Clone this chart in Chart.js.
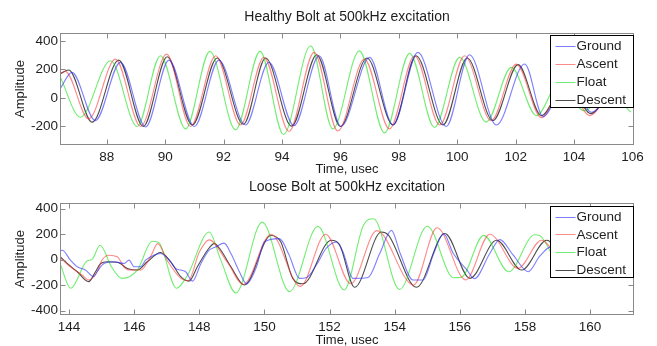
<!DOCTYPE html>
<html>
<head>
<meta charset="utf-8">
<script src="https://cdn.jsdelivr.net/npm/chart.js@4.4.1/dist/chart.umd.min.js"></script>
<style>
  html, body { margin: 0; padding: 0; background: #fff; }
  canvas { display: block; }
</style>
</head>
<body>
<canvas id="healthy" width="657" height="175"></canvas>
<canvas id="loose" width="657" height="171"></canvas>
<script>
const SERIES_NAMES = ["Ground", "Ascent", "Float", "Descent"];
const SERIES_COLORS = [
  "rgba(40, 40, 255, 0.6)",
  "rgba(255, 40, 40, 0.55)",
  "rgba(20, 225, 20, 0.6)",
  "rgba(0, 0, 0, 0.7)",
];

// Healthy bolt (usec / amplitude), peaks and troughs
const healthyGroundT = [86.40, 86.81, 87.61, 88.47, 89.33, 90.13, 91.00, 91.84, 92.75, 93.55, 94.41, 95.27, 96.02, 97.00, 97.80, 98.65, 99.62, 100.42, 101.34, 102.31, 102.94, 103.80, 104.60, 105.45, 106.30];
const healthyGroundV = [63, 179, -159, 249, -204, 265, -200, 265, -190, 250, -195, 296, -200, 284, -190, 319, -200, 303, -190, 238, -131, 150, -100, 60, -110];
const healthyAscentT = [86.40, 86.58, 87.38, 88.30, 89.16, 90.05, 90.87, 91.73, 92.58, 93.38, 94.24, 95.10, 95.91, 96.82, 97.68, 98.54, 99.40, 100.25, 101.16, 102.02, 102.88, 103.70, 104.54, 105.35, 106.20];
const healthyAscentV = [165, 186, -147, 272, -200, 307, -200, 296, -190, 284, -235, 319, -232, 272, -217, 296, -190, 296, -159, 238, -138, 120, -124, 60, -110];
const healthyFloatT = [86.40, 87.10, 88.13, 89.04, 89.84, 90.70, 91.53, 92.41, 93.25, 94.05, 94.98, 95.74, 96.65, 97.51, 98.37, 99.22, 100.08, 100.99, 101.85, 102.71, 103.50, 104.35, 105.15, 105.95];
const healthyFloatV = [150, -135, 261, -200, 296, -217, 326, -223, 326, -256, 366, -217, 330, -245, 312, -207, 284, -170, 214, -124, 110, -90, 40, -100];
const healthyDescentT = [86.40, 86.70, 87.50, 88.41, 89.25, 90.07, 90.93, 91.78, 92.68, 93.44, 94.33, 95.19, 96.00, 96.91, 97.80, 98.59, 99.51, 100.34, 101.22, 102.08, 102.88, 103.75, 104.57, 105.40, 106.25];
const healthyDescentV = [170, 196, -170, 265, -200, 289, -190, 280, -185, 280, -198, 303, -200, 280, -190, 296, -190, 280, -159, 233, -124, 130, -110, 60, -100];

// Loose bolt
const looseGroundT = [143.69, 143.79, 144.04, 144.25, 144.50, 144.76, 144.86, 145.07, 145.38, 145.69, 145.84, 146.00, 146.19, 146.35, 146.60, 146.81, 147.12, 147.27, 147.43, 147.58, 147.79, 148.05, 148.30, 148.50, 148.76, 148.97, 149.23, 149.45, 149.75, 150.00, 150.46, 150.75, 151.08, 151.30, 151.60, 151.90, 152.21, 152.40, 152.72, 153.18, 153.54, 153.90, 154.17, 154.56, 154.87, 155.20, 155.50, 155.80, 156.20, 156.45, 156.92, 157.23, 157.64, 158.10, 158.46, 158.80, 159.60, 160.50, 161.40];
const looseGroundV = [61, 74, -4, -56, -82, -134, -95, -30, -17, -30, -4, -56, -56, -4, 35, 48, -17, -69, -82, -95, -169, -30, 74, 100, 130, 48, -95, -190, -60, 139, 165, 40, -147, -140, -40, 90, 139, 67, -147, -140, 48, 230, 48, -160, -160, 48, 204, 48, -75, -150, 48, 157, 35, -95, 29, 100, -40, 120, 61];
const looseAscentT = [143.70, 144.04, 144.40, 144.60, 144.86, 145.02, 145.22, 145.48, 145.68, 145.85, 146.20, 146.50, 146.72, 147.02, 147.43, 147.66, 148.00, 148.30, 148.86, 149.35, 150.20, 151.10, 151.88, 152.65, 153.45, 154.58, 155.30, 156.18, 156.92, 157.79, 158.51, 159.30, 160.30, 161.40];
const looseAscentV = [22, -56, -121, -160, -95, 0, 35, 22, -56, -82, -82, 22, 126, -10, -147, -165, 60, 155, -20, -195, 200, -210, 200, -190, 228, -200, 250, -160, 200, -69, 152, -60, 140, 74];
const looseFloatT = [143.72, 144.05, 144.55, 144.70, 144.95, 145.30, 145.62, 146.10, 146.55, 146.75, 147.30, 147.63, 148.30, 148.66, 149.12, 149.93, 150.77, 151.64, 152.45, 153.04, 153.35, 154.15, 155.00, 155.81, 156.05, 156.73, 157.50, 158.30, 158.45, 159.20, 160.10, 160.80, 161.40];
const looseFloatV = [-30, -225, -10, 0, 113, -56, -147, -80, 144, 135, -225, -125, 217, -4, -262, 295, -251, 261, -238, 270, 321, -235, 262, -142, -138, 191, -95, 196, 190, -90, 150, -40, 230];
const looseDescentT = [143.70, 143.94, 144.25, 144.60, 144.81, 144.97, 145.17, 145.48, 145.79, 146.09, 146.40, 146.81, 147.12, 147.43, 147.68, 147.94, 148.25, 148.46, 148.66, 148.97, 149.38, 150.20, 150.50, 150.87, 151.18, 152.05, 152.30, 152.77, 153.59, 153.80, 154.67, 155.54, 156.31, 157.13, 157.90, 158.67, 159.40, 160.30, 161.40];
const looseDescentV = [30, -30, -95, -173, -95, -30, -17, -20, -69, -82, -17, 56, -17, -134, -169, -56, 74, 126, 74, -56, -199, 190, 140, -147, -190, 152, 120, -217, 217, 195, -217, 205, -147, 152, -82, 152, -50, 140, 60];

// tick labels
const healthyXTicks = [88, 90, 92, 94, 96, 98, 100, 102, 104, 106];
const healthyYTicks = [-200, 0, 200, 400];
const looseXTicks = [144, 146, 148, 150, 152, 154, 156, 158, 160];
const looseYTicks = [-400, -200, 0, 200, 400];

const FONT = "'Liberation Sans', Arial, sans-serif";
const TEXT = "#1e1e1e";

function zip(ts, vs) {
  return ts.map((t, i) => ({ x: t, y: vs[i] }));
}

// box, inward ticks, title and legend (MATLAB look)
const framePlugin = {
  id: "frame",
  afterDatasetsDraw(chart, args, opts) {
    const { ctx, chartArea: a, scales } = chart;
    const L = Math.round(a.left) + 0.5, R = Math.round(a.right) - 0.5;
    const T = Math.round(a.top) + 0.5, B = Math.round(a.bottom) - 0.5;
    ctx.save();
    ctx.strokeStyle = "#8a8a8a";
    ctx.lineWidth = 1;
    ctx.beginPath();
    scales.x.ticks.forEach((tk) => {
      const px = Math.round(scales.x.getPixelForValue(tk.value)) + 0.5;
      ctx.moveTo(px, B); ctx.lineTo(px, B - 5);
      ctx.moveTo(px, T); ctx.lineTo(px, T + 5);
    });
    scales.y.ticks.forEach((tk) => {
      const py = Math.round(scales.y.getPixelForValue(tk.value)) + 0.5;
      ctx.moveTo(L, py); ctx.lineTo(L + 5, py);
      ctx.moveTo(R, py); ctx.lineTo(R - 5, py);
    });
    ctx.stroke();
    ctx.strokeRect(L, T, R - L, B - T);

    // title
    ctx.fillStyle = TEXT;
    ctx.font = "14px " + FONT;
    ctx.textAlign = "center";
    ctx.textBaseline = "middle";
    ctx.fillText(opts.title, (a.left + a.right) / 2, a.top - 16);

    // legend box
    const w = 83, h = opts.legendH;
    const lx = Math.round(a.right) - 1 - w + 0.5;
    const ly = Math.round(a.top) + opts.legendTop + 0.5;
    ctx.fillStyle = "#fff";
    ctx.fillRect(lx, ly, w, h);
    ctx.strokeStyle = "#000";
    ctx.strokeRect(lx, ly, w, h);
    ctx.font = "13.5px " + FONT;
    ctx.textAlign = "left";
    chart.data.datasets.forEach((ds, i) => {
      const y = ly + 10 + i * opts.legendStep;
      ctx.strokeStyle = ds.borderColor;
      ctx.beginPath();
      ctx.moveTo(lx + 5, Math.round(y) + 0.5);
      ctx.lineTo(lx + 25, Math.round(y) + 0.5);
      ctx.stroke();
      ctx.fillStyle = TEXT;
      ctx.fillText(ds.label, lx + 26, y + 0.5);
    });
    ctx.restore();
  },
};

function makeChart(id, cfg) {
  const datasets = cfg.series.map((s, i) => ({
    label: SERIES_NAMES[i],
    data: zip(s[0], s[1]),
    borderColor: SERIES_COLORS[i],
    borderWidth: 1.1,
    pointRadius: 0,
    fill: false,
    cubicInterpolationMode: "monotone",
  }));
  return new Chart(document.getElementById(id), {
    type: "line",
    data: { datasets },
    plugins: [framePlugin],
    options: {
      responsive: false,
      animation: false,
      events: [],
      layout: { padding: { top: cfg.padTop, right: 23, bottom: 0, left: 0 } },
      plugins: {
        legend: { display: false },
        tooltip: { enabled: false },
        frame: {
          title: cfg.title,
          legendTop: cfg.legendTop,
          legendH: cfg.legendH,
          legendStep: cfg.legendStep,
        },
      },
      scales: {
        x: {
          type: "linear",
          min: cfg.xMin,
          max: cfg.xMax,
          afterBuildTicks: (s) => { s.ticks = cfg.xTicks.map((v) => ({ value: v })); },
          afterFit: (s) => { s.height = cfg.xHeight; },
          grid: { display: false, drawTicks: false },
          border: { display: false },
          ticks: { color: TEXT, font: { family: FONT, size: 13.5 }, padding: 4, maxRotation: 0, autoSkip: false },
          title: { display: true, text: "Time, usec", color: TEXT, font: { family: FONT, size: 13, lineHeight: 1 }, padding: { top: 0, bottom: cfg.xTitlePad } },
        },
        y: {
          min: cfg.yMin,
          max: cfg.yMax,
          afterBuildTicks: (s) => { s.ticks = cfg.yTicks.map((v) => ({ value: v })); },
          afterFit: (s) => { s.width = 60; },
          grid: { display: false, drawTicks: false },
          border: { display: false },
          ticks: { color: TEXT, font: { family: FONT, size: 13.5 }, padding: 2 },
          title: { display: true, text: "Amplitude", color: TEXT, font: { family: FONT, size: 13, lineHeight: 1 }, padding: { top: 14, bottom: 0 } },
        },
      },
    },
  });
}

makeChart("healthy", {
  title: "Healthy Bolt at 500kHz excitation",
  series: [
    [healthyGroundT, healthyGroundV],
    [healthyAscentT, healthyAscentV],
    [healthyFloatT, healthyFloatV],
    [healthyDescentT, healthyDescentV],
  ],
  xMin: 86.4, xMax: 106.05, yMin: -330, yMax: 455,
  xTicks: healthyXTicks, yTicks: healthyYTicks,
  padTop: 33, xHeight: 30, xTitlePad: -1,
  legendTop: 2, legendH: 72, legendStep: 18,
});

makeChart("loose", {
  title: "Loose Bolt at 500kHz excitation",
  series: [
    [looseGroundT, looseGroundV],
    [looseAscentT, looseAscentV],
    [looseFloatT, looseFloatV],
    [looseDescentT, looseDescentV],
  ],
  xMin: 143.72, xMax: 161.35, yMin: -435, yMax: 445,
  xTicks: looseXTicks, yTicks: looseYTicks,
  padTop: 28, xHeight: 31, xTitlePad: -1,
  legendTop: 3, legendH: 71, legendStep: 17.8,
});
</script>
</body>
</html>
